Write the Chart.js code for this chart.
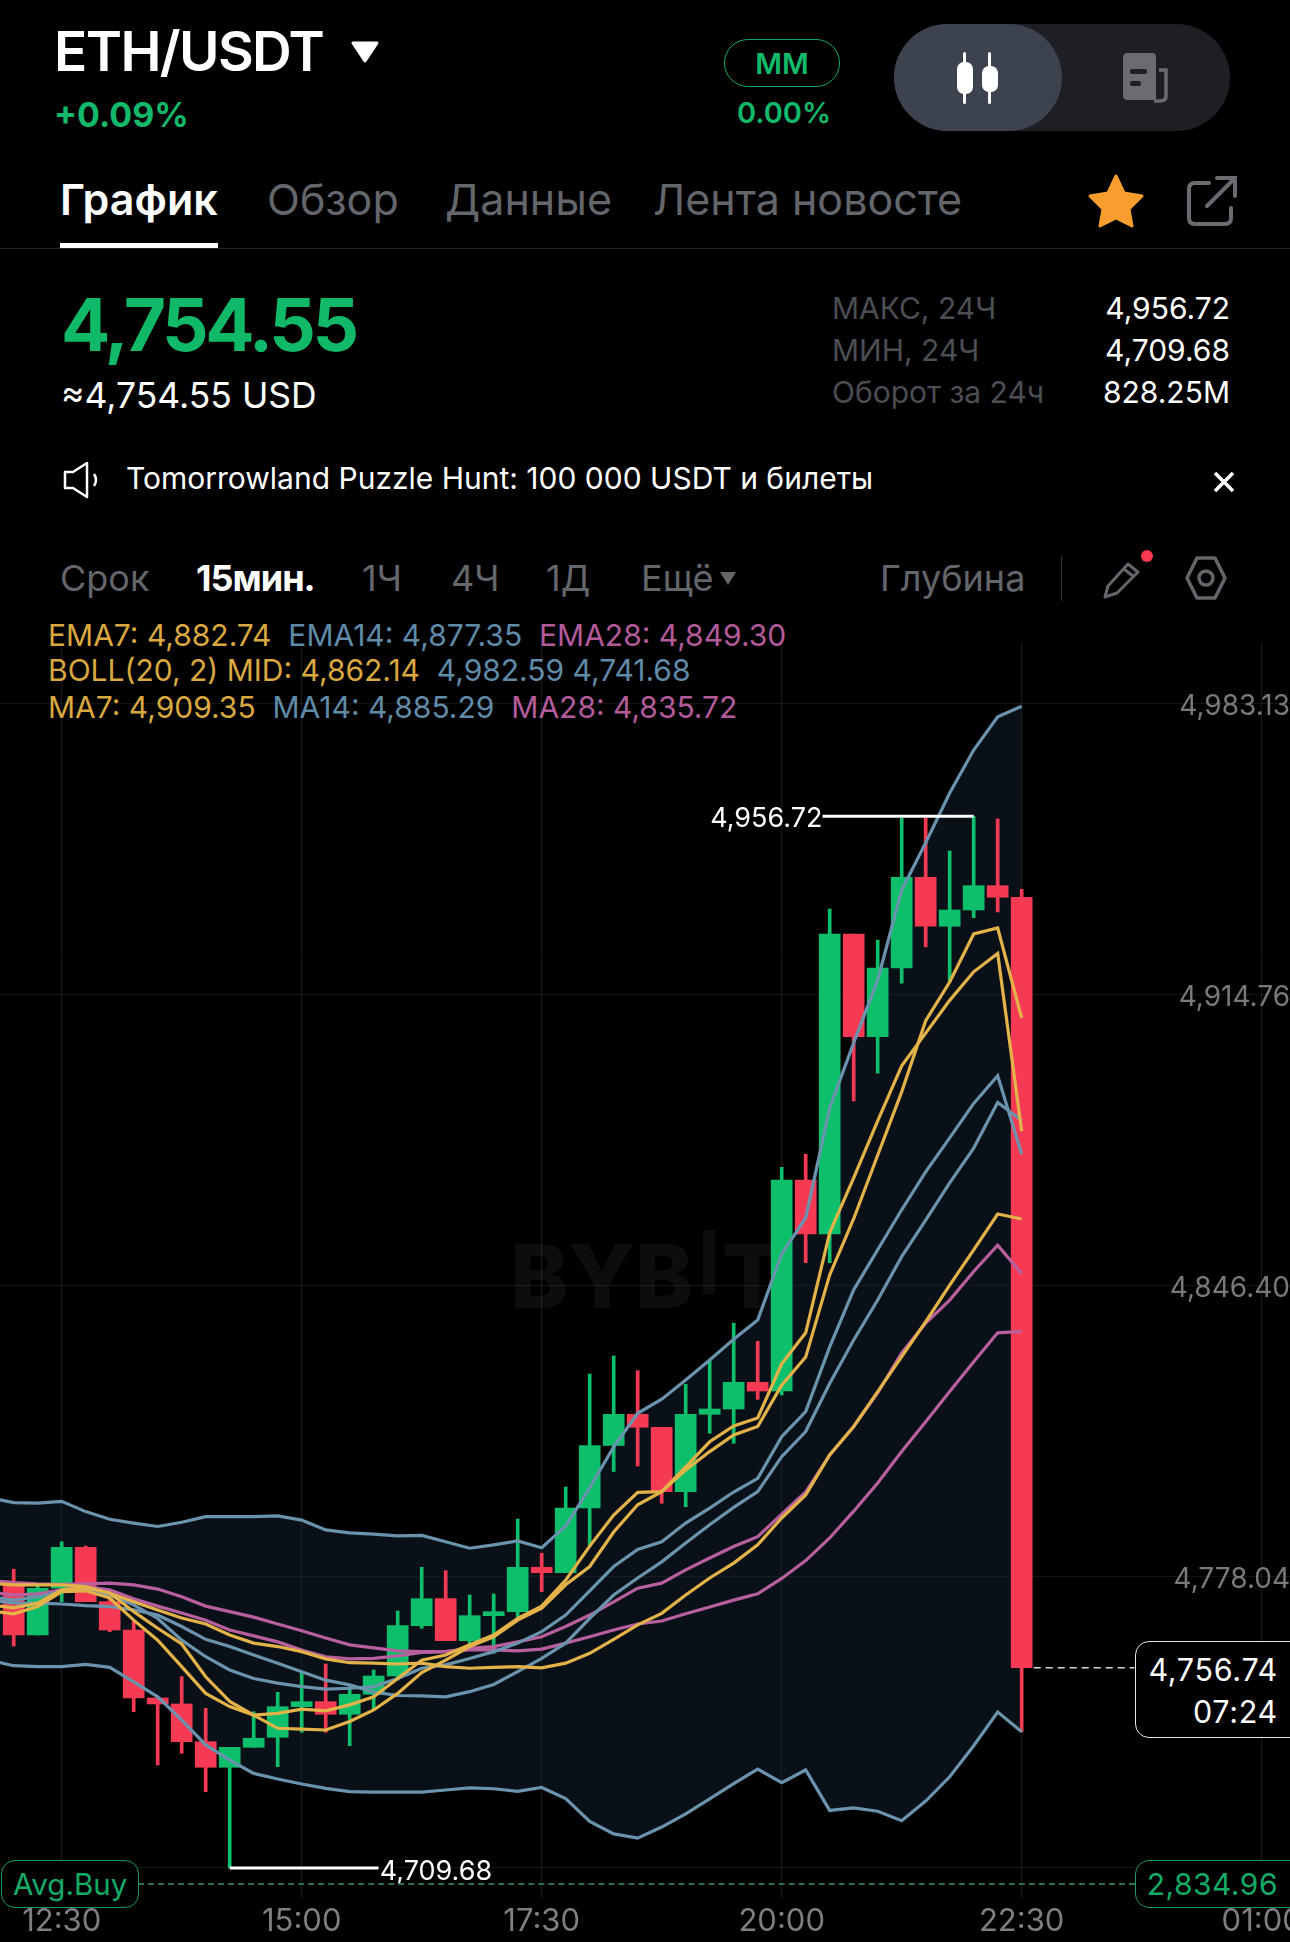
<!DOCTYPE html>
<html>
<head>
<meta charset="utf-8">
<script src="https://cdn.jsdelivr.net/npm/chart.js@4/dist/chart.umd.min.js"></script>
<style>
html, body { margin: 0; padding: 0; background: #000; }
body { position: relative; width: 1290px; height: 1942px; overflow: hidden; font-family: Inter, sans-serif; color: #fff; }
.t { position: absolute; white-space: nowrap; line-height: 1; }
.grey { color: #63666b; }
.dim { color: #4b4e53; }
.green { color: #12b96b; }
svg { position: absolute; }
#chart { position: absolute; left: 0; top: 644px; }
.lg { position: absolute; left: 48px; white-space: pre; font-size: 30px; line-height: 1; }
.yel { color: #d9a93f; } .blu { color: #5f8aa8; } .pnk { color: #b35b9a; }
.box { position: absolute; border-radius: 14px; background: #000; box-sizing: border-box; }
</style>
</head>
<body>

<div class="t" style="left:54px;top:24px;font-size:55px;font-weight:600;letter-spacing:-1.6px">ETH/USDT</div>
<svg style="left:350px;top:40px" width="30" height="24"><path d="M3 3 H27 L15 21 Z" fill="#fff" stroke="#fff" stroke-width="3" stroke-linejoin="round"/></svg>
<div class="t green" style="left:54px;top:98px;font-size:34px;font-weight:700">+0.09%</div>

<div class="box" style="left:724px;top:39px;width:116px;height:48px;border:1.5px solid #12a863;border-radius:24px"></div>
<div class="t green" style="left:724px;width:116px;text-align:center;top:49px;font-size:29px;font-weight:600">MM</div>
<div class="t green" style="left:726px;width:116px;text-align:center;top:98px;font-size:29px;font-weight:600">0.00%</div>

<div style="position:absolute;left:894px;top:24px;width:336px;height:107px;border-radius:54px;background:#1d1f24"></div>
<div style="position:absolute;left:894px;top:24px;width:168px;height:107px;border-radius:54px;background:#3c434e"></div>
<svg style="left:950px;top:50px" width="56" height="56" fill="#fff">
  <rect x="13" y="2" width="3" height="52" rx="1.5"/><rect x="7" y="12" width="16" height="32" rx="7"/>
  <rect x="38" y="2" width="3" height="52" rx="1.5"/><rect x="32" y="16" width="16" height="26" rx="7"/>
</svg>
<svg style="left:1120px;top:50px" width="52" height="54">
  <path d="M8 3 H32 Q36 3 36 7 V50 H8 Q3 50 3 46 V8 Q3 3 8 3 Z" fill="#6a6c71"/>
  <path d="M39 20 H46 V46 Q46 51 40 51 H34" fill="none" stroke="#6a6c71" stroke-width="3.5"/>
  <rect x="10" y="19" width="17" height="5" rx="2" fill="#1d1f24"/><rect x="10" y="31" width="11" height="5" rx="2" fill="#1d1f24"/>
</svg>

<div class="t" style="left:60px;top:178px;font-size:43px;font-weight:600">График</div>
<div style="position:absolute;left:60px;top:243px;width:158px;height:5px;background:#fff"></div>
<div class="t grey" style="left:267px;top:178px;font-size:43px">Обзор</div>
<div class="t grey" style="left:445px;top:178px;font-size:43px">Данные</div>
<div class="t grey" style="left:653px;top:178px;font-size:43px;width:309px;overflow:hidden;padding-bottom:8px">Лента новостей</div>
<div style="position:absolute;left:0;top:248px;width:1290px;height:1px;background:#202226"></div>
<svg style="left:1086px;top:172px" width="60" height="58"><path d="M30 4 L38 21 L56 24 L43 37 L46 54 L30 46 L14 54 L17 37 L4 24 L22 21 Z" fill="#f79e2e" stroke="#f79e2e" stroke-width="3" stroke-linejoin="round"/></svg>
<svg style="left:1185px;top:174px" width="54" height="54" fill="none" stroke="#6a6c71" stroke-width="4" stroke-linecap="round"><path d="M24 9 H10 Q4 9 4 15 V44 Q4 50 10 50 H40 Q46 50 46 44 V34"/><path d="M22 32 L50 4 M32 4 H50 V22"/></svg>

<div class="t green" style="left:61px;top:288px;font-size:73px;font-weight:700;letter-spacing:-3.4px;color:#0fb968">4,754.55</div>
<div class="t" style="left:61px;top:378px;font-size:35.5px">≈4,754.55 USD</div>
<div class="t dim" style="left:832px;top:293px;font-size:30px">МАКС, 24Ч</div>
<div class="t dim" style="left:832px;top:335px;font-size:30px">МИН, 24Ч</div>
<div class="t dim" style="left:832px;top:377px;font-size:30px">Оборот за 24ч</div>
<div class="t" style="right:60px;top:293px;font-size:30px">4,956.72</div>
<div class="t" style="right:60px;top:335px;font-size:30px">4,709.68</div>
<div class="t" style="right:60px;top:377px;font-size:30px">828.25M</div>

<svg style="left:62px;top:460px" width="40" height="40" fill="none" stroke="#fff" stroke-width="2.5" stroke-linejoin="round"><path d="M3 12 H11 L25 3 V37 L11 28 H3 Z"/><path d="M32 14 Q36 20 32 26"/></svg>
<div class="t" style="left:126px;top:463px;font-size:30px">Tomorrowland Puzzle Hunt: 100 000 USDT и билеты</div>
<svg style="left:1212px;top:470px" width="24" height="24" stroke="#fff" stroke-width="3.5"><path d="M3 3 L21 21 M21 3 L3 21"/></svg>

<div class="t grey" style="left:60px;top:560px;font-size:36px">Срок</div>
<div class="t" style="left:196px;top:560px;font-size:36px;font-weight:700;letter-spacing:-1px">15мин.</div>
<div class="t grey" style="left:362px;top:560px;font-size:36px">1Ч</div>
<div class="t grey" style="left:451px;top:560px;font-size:36px">4Ч</div>
<div class="t grey" style="left:546px;top:560px;font-size:36px">1Д</div>
<div class="t grey" style="left:641px;top:560px;font-size:36px">Ещё</div>
<svg style="left:719px;top:571px" width="18" height="15"><path d="M1 1 H17 L9 14 Z" fill="#63666b"/></svg>
<div class="t grey" style="left:880px;top:560px;font-size:36px">Глубина</div>
<div style="position:absolute;left:1061px;top:556px;width:1px;height:45px;background:#35373b"></div>
<svg style="left:1102px;top:560px" width="40" height="40" fill="none" stroke="#63666b" stroke-width="3" stroke-linejoin="round"><path d="M3 37 L6 26 L26 4 L36 12 L15 33 Z M22 9 L32 17"/></svg>
<svg style="left:1139px;top:548px" width="16" height="16"><circle cx="8" cy="8" r="6" fill="#f7384e"/></svg>
<svg style="left:1184px;top:554px" width="44" height="48" fill="none" stroke="#63666b" stroke-width="3.5" stroke-linejoin="round"><path d="M13 4 H31 L41 24 L31 44 H13 L3 24 Z"/><circle cx="22" cy="24" r="7"/></svg>

<div class="lg" style="top:620px"><span class="yel">EMA7: 4,882.74</span>  <span class="blu">EMA14: 4,877.35</span>  <span class="pnk">EMA28: 4,849.30</span></div>
<div class="lg" style="top:655px"><span class="yel">BOLL(20, 2) MID: 4,862.14</span>  <span class="blu">4,982.59 4,741.68</span></div>
<div class="lg" style="top:692px"><span class="yel">MA7: 4,909.35</span>  <span class="blu">MA14: 4,885.29</span>  <span class="pnk">MA28: 4,835.72</span></div>

<div class="t" style="left:510px;top:1232px;font-size:88px;font-weight:800;color:#0d0d0d">BYB</div>
<div class="t" style="left:703px;top:1230px;width:12px;height:64px;background:#0d0d0d"></div>
<div class="t" style="left:722px;top:1232px;font-size:88px;font-weight:800;color:#0d0d0d">T</div>

<canvas id="chart" width="1290" height="1298"></canvas>

<div style="position:absolute;left:138px;top:1883px;width:997px;height:0;border-top:2px dashed #2c6e4d"></div>
<div class="box" style="left:1px;top:1860px;width:138px;height:48px;border:1.5px solid #159a5e"></div>
<div class="t green" style="left:13px;top:1870px;font-size:29.5px;color:#14ab66">Avg.Buy</div>
<div class="box" style="left:1135px;top:1860px;width:170px;height:48px;border:1.5px solid #159a5e"></div>
<div class="t green" style="right:12px;top:1869px;font-size:30px;color:#14ab66;letter-spacing:.5px">2,834.96</div>
<div class="box" style="left:1135px;top:1641px;width:170px;height:97px;border:1.5px solid #e8e8e8"></div>
<div class="t" style="right:12px;top:1655px;font-size:30.5px;letter-spacing:.7px">4,756.74</div>
<div class="t" style="right:12px;top:1697px;font-size:30.5px;letter-spacing:.7px">07:24</div>

<script>
// 15 min candles, first line point sits just off the left edge (11:45)
const times = ['11:45','12:00','12:15','12:30','12:45','13:00','13:15','13:30','13:45','14:00','14:15','14:30','14:45','15:00','15:15','15:30','15:45','16:00','16:15','16:30','16:45','17:00','17:15','17:30','17:45','18:00','18:15','18:30','18:45','19:00','19:15','19:30','19:45','20:00','20:15','20:30','20:45','21:00','21:15','21:30','21:45','22:00','22:15','22:30'];

const opens = [4776.56,4764.42,4775.39,4785.02,4772.24,4765.59,4749.62,4748.21,4739.35,4733.34,4738.03,4740.38,4747.57,4748.75,4745.79,4750.48,4754.78,4766.60,4772.94,4763.08,4768.95,4769.89,4780.32,4779.05,4794.25,4808.93,4816.26,4813.21,4798.08,4816.26,4817.50,4823.78,4821.73,4871.30,4858.62,4929.09,4904.96,4921.10,4942.41,4930.90,4934.73,4940.44,4937.72];
const closes = [4764.42,4775.39,4785.02,4772.24,4765.59,4749.62,4748.21,4739.35,4733.34,4738.03,4740.15,4747.57,4748.75,4745.79,4750.48,4754.78,4766.60,4772.94,4763.08,4768.95,4769.89,4780.32,4779.05,4794.25,4808.93,4816.26,4813.21,4798.08,4816.26,4817.50,4823.78,4821.73,4871.30,4858.62,4929.09,4904.96,4921.10,4942.41,4930.90,4934.73,4940.44,4937.72,4756.74];
const highs = [4779.85,4775.93,4786.33,4785.32,4775.15,4767.54,4749.62,4754.62,4747.20,4738.03,4746.40,4750.95,4755.42,4757.60,4752.27,4756.19,4770.05,4780.32,4779.52,4773.81,4774.05,4791.66,4783.61,4799.18,4825.73,4829.96,4826.50,4813.21,4823.31,4828.85,4837.64,4833.41,4874.28,4877.34,4934.96,4929.09,4927.68,4956.27,4956.27,4948.59,4956.72,4956.12,4939.59];
const lows = [4761.83,4764.42,4772.24,4772.24,4765.19,4746.40,4733.88,4736.62,4727.60,4709.68,4738.03,4733.48,4741.56,4741.56,4738.41,4746.80,4753.84,4765.99,4763.08,4762.07,4760.12,4768.71,4774.59,4779.05,4785.16,4802.82,4804.12,4795.35,4794.55,4811.80,4809.45,4819.78,4820.79,4851.87,4851.87,4889.86,4896.37,4917.51,4926.06,4917.90,4932.92,4934.26,4741.63];

const bollUp = [4796.6,4795.5,4795.4,4795.8,4793.4,4791.6,4790.7,4789.9,4790.9,4792.2,4792.2,4792.2,4792.4,4791.4,4789.1,4788.4,4788.1,4787.7,4787.8,4786.3,4784.8,4785.6,4786.5,4784.9,4790.0,4799.0,4808.6,4816.5,4819.8,4824.3,4829.0,4833.9,4838.4,4853.9,4862.4,4888.2,4903.5,4918.3,4939.4,4950.5,4962.2,4972.3,4980.1,4982.59];
const bollLow = [4758.5,4757.2,4757.0,4757.0,4757.5,4756.8,4753.4,4749.9,4744.4,4738.6,4735.0,4731.9,4730.6,4729.4,4728.4,4727.6,4727.5,4727.5,4727.5,4728.0,4728.5,4728.3,4727.7,4728.6,4726.0,4720.6,4717.7,4716.7,4719.3,4722.4,4725.9,4729.5,4732.9,4729.7,4732.7,4723.2,4723.8,4723.0,4720.8,4725.4,4731.1,4738.4,4746.3,4741.68];
const bollMid = [4776.6,4776.2,4776.2,4776.2,4775.8,4774.2,4772.2,4770.3,4768.4,4767.0,4764.4,4762.5,4761.7,4760.5,4758.8,4757.9,4757.8,4757.6,4757.8,4757.0,4756.6,4756.8,4757.0,4756.7,4757.8,4760.1,4763.4,4766.8,4769.5,4773.8,4777.8,4781.3,4785.6,4791.9,4797.3,4806.7,4813.4,4821.6,4829.8,4838.0,4846.6,4854.9,4863.3,4862.14];
const ma7 = [4771.5,4770.8,4771.9,4775.0,4775.5,4774.3,4769.9,4766.0,4762.3,4754.6,4748.8,4745.6,4742.5,4742.3,4742.1,4744.1,4746.8,4750.7,4755.6,4758.5,4761.7,4764.0,4767.9,4770.7,4776.2,4780.5,4788.6,4795.0,4798.1,4803.2,4807.5,4811.4,4813.4,4823.1,4829.7,4849.0,4862.2,4877.1,4892.0,4908.7,4917.8,4929.1,4930.5,4909.35];
const ma14 = [4772.6,4771.9,4771.9,4771.7,4771.3,4771.1,4770.3,4769.1,4766.4,4763.4,4761.7,4759.7,4757.8,4755.8,4753.8,4752.7,4751.0,4750.2,4750.1,4749.9,4751.1,4752.8,4755.8,4758.9,4762.5,4768.3,4773.8,4777.8,4781.6,4786.0,4790.3,4794.4,4798.1,4806.3,4812.2,4823.5,4833.7,4843.1,4853.3,4861.9,4870.6,4878.8,4889.5,4885.29];
const ma28 = [4777.2,4776.7,4776.4,4776.3,4776.4,4776.6,4776.2,4775.2,4773.4,4771.2,4769.9,4768.6,4767.0,4765.4,4763.7,4762.1,4761.4,4760.7,4760.5,4760.5,4760.9,4760.9,4760.7,4761.1,4762.5,4764.0,4765.6,4767.0,4767.7,4769.4,4771.0,4772.6,4774.1,4777.7,4781.9,4787.2,4793.5,4800.1,4807.5,4814.5,4821.6,4828.6,4835.4,4835.72];
const ema7 = [4770.1,4769.4,4771.1,4774.6,4774.8,4773.1,4767.9,4763.2,4757.0,4750.7,4747.6,4745.6,4746.0,4747.0,4746.6,4748.0,4749.9,4754.2,4758.5,4759.7,4762.1,4764.4,4768.3,4771.2,4777.3,4785.3,4792.6,4797.9,4798.1,4803.9,4809.8,4813.5,4815.4,4828.1,4835.4,4858.9,4871.8,4885.2,4898.1,4905.8,4913.5,4920.2,4924.5,4882.74];
const ema14 = [4773.4,4772.6,4773.4,4774.6,4775.0,4773.8,4771.5,4768.3,4763.2,4759.3,4756.2,4754.2,4753.1,4752.3,4751.7,4751.9,4752.3,4754.2,4756.6,4757.4,4758.9,4760.5,4762.5,4765.2,4769.1,4774.8,4780.5,4784.5,4786.3,4790.7,4794.2,4798.0,4801.2,4811.0,4816.9,4832.1,4845.5,4854.9,4864.3,4873.2,4881.2,4889.3,4895.8,4877.35];
const ema28 = [4774.5,4773.8,4774.1,4775.0,4775.8,4775.0,4772.9,4771.2,4769.6,4767.9,4765.6,4764.2,4762.8,4760.9,4759.3,4758.8,4758.9,4759.5,4760.3,4760.5,4761.3,4761.7,4762.8,4764.0,4766.4,4769.1,4772.2,4775.4,4776.6,4779.7,4782.5,4785.2,4787.5,4792.8,4798.0,4806.7,4813.4,4821.3,4830.7,4837.7,4843.1,4849.8,4856.0,4849.30];

const yTicks = [4983.13, 4914.76, 4846.40, 4778.04, 4709.68];
const yTickLabels = ['4,983.13', '4,914.76', '4,846.40', '4,778.04', ''];
const xTicks = [3, 13, 23, 33, 43, 53];
const xTickLabels = ['12:30', '15:00', '17:30', '20:00', '22:30', '01:00'];

const highPrice = 4956.72;
const lowPrice = 4709.68;
const lastPrice = 4756.74;

const GREEN = '#0dbf6b';
const RED = '#f63a53';
const YELLOW = '#e3b34a';
const BLUE = '#6a93ae';
const PINK = '#b8609f';

const candleColors = closes.map((c, i) => (c >= opens[i] ? GREEN : RED));

function line(values, color, order, extra) {
    return Object.assign({
        type: 'line',
        data: values.map((v, i) => ({ x: i, y: v })),
        borderColor: color,
        borderWidth: 3.2,
        pointRadius: 0,
        tension: 0,
        fill: false,
        order: order
    }, extra);
}

// high / low price tags next to their leader lines
const priceTags = {
    id: 'priceTags',
    afterDatasetsDraw(chart) {
        const { ctx, scales } = chart;
        ctx.save();
        ctx.font = '27px Inter';
        ctx.fillStyle = '#fff';
        ctx.textBaseline = 'middle';
        ctx.textAlign = 'right';
        ctx.fillText('4,956.72', scales.x.getPixelForValue(34.7), scales.y.getPixelForValue(highPrice) + 3);
        ctx.textAlign = 'left';
        ctx.fillText('4,709.68', scales.x.getPixelForValue(16.25), scales.y.getPixelForValue(lowPrice) + 4);
        ctx.restore();
    }
};

new Chart(document.getElementById('chart'), {
    data: {
        datasets: [
            line(bollUp, BLUE, 4, { fill: '+1', backgroundColor: 'rgba(30,46,66,0.34)' }),
            line(bollLow, BLUE, 5),
            line(bollMid, YELLOW, 2),
            line(ma7, YELLOW, 3),
            line(ma14, BLUE, 6),
            line(ma28, PINK, 7),
            line(ema7, YELLOW, 3),
            line(ema14, BLUE, 6),
            line(ema28, PINK, 7),
            // leader lines for high, low and the dashed last price line
            line([highPrice, highPrice], '#fff', 1, { data: [{ x: 34.7, y: highPrice }, { x: 41, y: highPrice }], borderWidth: 3 }),
            line([lowPrice, lowPrice], '#fff', 1, { data: [{ x: 10, y: lowPrice }, { x: 16.2, y: lowPrice }], borderWidth: 3 }),
            line([lastPrice, lastPrice], '#d8d8d8', 1, { data: [{ x: 43.5, y: lastPrice }, { x: 47.7, y: lastPrice }], borderWidth: 1.5, borderDash: [7, 5] }),
            {
                type: 'bar',
                data: opens.map((o, i) => ({ x: i + 1, y: [o, closes[i]] })),
                backgroundColor: candleColors,
                barThickness: 21,
                grouped: false,
                borderSkipped: false,
                order: 10
            },
            {
                type: 'bar',
                data: highs.map((h, i) => ({ x: i + 1, y: [lows[i], h] })),
                backgroundColor: candleColors,
                barThickness: 3,
                grouped: false,
                borderSkipped: false,
                order: 11
            }
        ]
    },
    options: {
        responsive: false,
        animation: false,
        events: [],
        layout: { padding: 0 },
        plugins: {
            legend: { display: false },
            tooltip: { enabled: false },
            filler: { drawTime: 'beforeDatasetsDraw' }
        },
        scales: {
            x: {
                type: 'linear',
                offset: false,
                min: 0.429,
                max: 54.18,
                afterBuildTicks: (s) => { s.ticks = xTicks.map(v => ({ value: v })); },
                afterFit: (s) => { s.height = 44; s.paddingLeft = 0; s.paddingRight = 0; },
                grid: { offset: false, color: 'rgba(255,255,255,0.1)', lineWidth: 1, drawTicks: false },
                border: { display: false },
                ticks: {
                    autoSkip: false,
                    maxRotation: 0,
                    padding: 5,
                    color: '#7d7f83',
                    font: { family: 'Inter', size: 31 },
                    callback: (v) => xTickLabels[xTicks.indexOf(v)]
                }
            },
            y: {
                type: 'linear',
                position: 'right',
                beginAtZero: false,
                min: 4702.63,
                max: 4997.21,
                afterBuildTicks: (s) => { s.ticks = yTicks.map(v => ({ value: v })); },
                afterFit: (s) => { s.width = 0; s.paddingTop = 0; s.paddingBottom = 0; },
                grid: { color: 'rgba(255,255,255,0.08)', lineWidth: 1, drawTicks: false },
                border: { display: false },
                ticks: {
                    mirror: true,
                    padding: 0,
                    labelOffset: 3,
                    color: '#77797d',
                    font: { family: 'Inter', size: 28 },
                    callback: (v) => yTickLabels[yTicks.indexOf(v)]
                }
            }
        }
    },
    plugins: [priceTags]
});
</script>
</body>
</html>
